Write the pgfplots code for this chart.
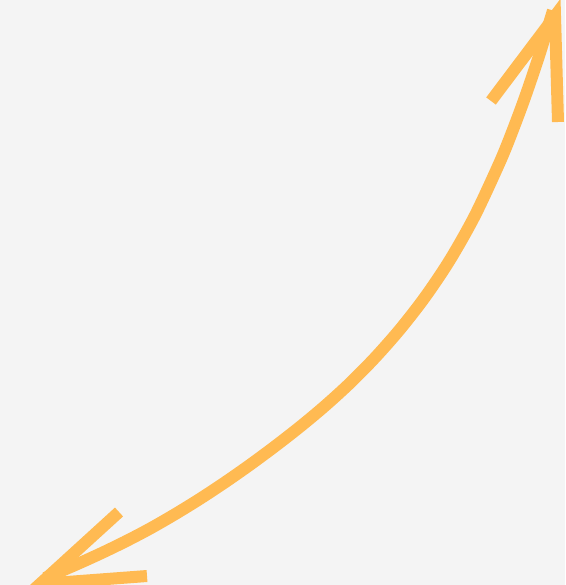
\documentclass[border=0pt]{standalone}
\usepackage{pgfplots}
\pgfplotsset{compat=1.18}
\definecolor{bg}{HTML}{F4F4F4}
\definecolor{arr}{HTML}{FFBA52}
\begin{document}
\begin{tikzpicture}
\begin{axis}[
  scale only axis, width=565pt, height=585pt,
  xmin=0, xmax=565, ymin=0, ymax=585,
  axis lines=none, y dir=reverse,
  axis background/.style={fill=bg},
]
\addplot[arr, line width=12pt, smooth, tension=0.5] coordinates {
(45,578) (75,565.1) (100,553.8) (125,541.7) (150,528.6) (175,514.2)
(200,498.8) (225,482.3) (250,464.8) (275,446.3) (300,426.8) (325,405.9)
(350,383.1) (375,357.7) (400,329.3) (425,297.1) (450,259.8) (475,215.4)
(500,161.7) (512.5,130.9) (525,97.3) (539,56) (553,10.5)};
\addplot[arr, line width=12pt, line join=miter, miter limit=20] coordinates {
(491,101) (555,16) (558,122)};
\addplot[arr, line width=12pt, line join=miter, miter limit=20] coordinates {
(119,512) (40,584) (147,576)};
\end{axis}
\end{tikzpicture}
\end{document}
